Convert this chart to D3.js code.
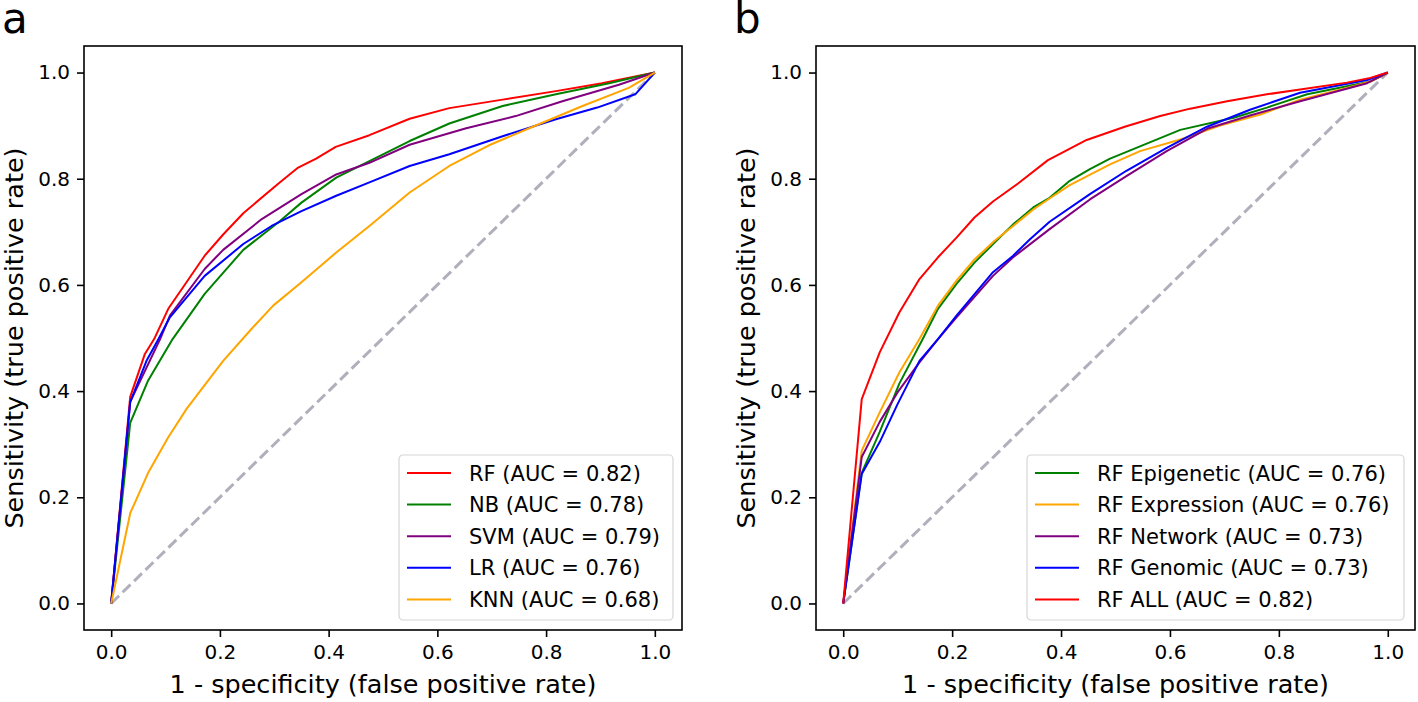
<!DOCTYPE html>
<html>
<head>
<meta charset="utf-8">
<script src="https://cdn.jsdelivr.net/npm/d3@7"></script>
<style>
  body { margin: 0; background: #fff; }
  svg text { font-family: "DejaVu Sans", sans-serif; fill: #000; }
</style>
</head>
<body>
<div id="chart"></div>
<script>
// tick values shared by both panels
var tickValues = [0, 0.2, 0.4, 0.6, 0.8, 1.0];

// panel a: classifiers, [fpr, tpr]
var rocRF = [[0,0],[0.035,0.389],[0.062,0.47],[0.079,0.498],[0.105,0.555],[0.172,0.655],[0.206,0.695],[0.243,0.735],[0.31,0.793],[0.344,0.821],[0.377,0.838],[0.413,0.86],[0.475,0.882],[0.549,0.913],[0.622,0.933],[0.72,0.949],[0.818,0.965],[0.903,0.98],[1,1]];
var rocNB = [[0,0],[0.035,0.34],[0.068,0.42],[0.113,0.498],[0.172,0.583],[0.243,0.666],[0.31,0.72],[0.35,0.755],[0.414,0.802],[0.475,0.833],[0.549,0.871],[0.622,0.904],[0.72,0.937],[0.818,0.959],[0.916,0.98],[1,1]];
var rocSVM = [[0,0],[0.035,0.38],[0.09,0.498],[0.108,0.542],[0.172,0.63],[0.206,0.666],[0.277,0.724],[0.35,0.771],[0.414,0.808],[0.475,0.83],[0.549,0.864],[0.653,0.895],[0.744,0.918],[0.83,0.946],[0.934,0.977],[1,1]];
var rocLR = [[0,0],[0.035,0.379],[0.065,0.457],[0.087,0.498],[0.108,0.539],[0.172,0.617],[0.243,0.677],[0.295,0.711],[0.35,0.739],[0.414,0.768],[0.475,0.793],[0.549,0.824],[0.622,0.846],[0.72,0.88],[0.818,0.912],[0.894,0.934],[0.964,0.959],[1,1]];
var rocKNN = [[0,0],[0.035,0.17],[0.068,0.246],[0.105,0.313],[0.139,0.367],[0.206,0.457],[0.258,0.517],[0.298,0.561],[0.35,0.605],[0.414,0.661],[0.475,0.711],[0.549,0.774],[0.622,0.824],[0.695,0.863],[0.769,0.895],[0.867,0.937],[0.952,0.971],[1,1]];

// panel b: feature sets
var rocEpi = [[0,0],[0.034,0.246],[0.067,0.323],[0.103,0.414],[0.146,0.498],[0.174,0.555],[0.208,0.602],[0.241,0.642],[0.278,0.68],[0.312,0.714],[0.349,0.746],[0.379,0.764],[0.416,0.796],[0.453,0.818],[0.49,0.838],[0.545,0.861],[0.619,0.892],[0.717,0.915],[0.778,0.934],[0.852,0.959],[0.925,0.974],[0.968,0.983],[1,1]];
var rocExpr = [[0,0],[0.034,0.288],[0.067,0.36],[0.103,0.435],[0.14,0.498],[0.174,0.561],[0.208,0.608],[0.241,0.648],[0.278,0.683],[0.312,0.711],[0.349,0.742],[0.385,0.767],[0.416,0.788],[0.49,0.827],[0.545,0.852],[0.619,0.874],[0.692,0.9],[0.766,0.921],[0.839,0.949],[0.925,0.971],[0.968,0.983],[1,1]];
var rocNet = [[0,0],[0.034,0.276],[0.067,0.342],[0.1,0.398],[0.14,0.454],[0.174,0.498],[0.208,0.539],[0.275,0.617],[0.312,0.652],[0.379,0.705],[0.453,0.761],[0.52,0.805],[0.594,0.852],[0.668,0.894],[0.747,0.919],[0.839,0.946],[0.962,0.98],[1,1]];
var rocGen = [[0,0],[0.034,0.244],[0.067,0.304],[0.1,0.376],[0.14,0.457],[0.174,0.498],[0.208,0.542],[0.275,0.624],[0.312,0.655],[0.343,0.686],[0.379,0.719],[0.453,0.771],[0.52,0.815],[0.594,0.858],[0.668,0.898],[0.747,0.93],[0.839,0.962],[0.962,0.986],[1,1]];
var rocAll = [[0,0],[0.034,0.385],[0.067,0.473],[0.103,0.548],[0.14,0.611],[0.174,0.652],[0.208,0.689],[0.241,0.727],[0.275,0.757],[0.321,0.791],[0.376,0.835],[0.447,0.873],[0.517,0.898],[0.582,0.918],[0.637,0.932],[0.705,0.946],[0.778,0.959],[0.839,0.968],[0.925,0.981],[0.968,0.99],[1,1]];

var labelsA = ["RF (AUC = 0.82)", "NB (AUC = 0.78)", "SVM (AUC = 0.79)", "LR (AUC = 0.76)", "KNN (AUC = 0.68)"];
var colorsA = ["red", "green", "purple", "blue", "orange"];
var seriesA = [rocRF, rocNB, rocSVM, rocLR, rocKNN];

var labelsB = ["RF Epigenetic (AUC = 0.76)", "RF Expression (AUC = 0.76)", "RF Network (AUC = 0.73)", "RF Genomic (AUC = 0.73)", "RF ALL (AUC = 0.82)"];
var colorsB = ["green", "orange", "purple", "blue", "red"];
var seriesB = [rocEpi, rocExpr, rocNet, rocGen, rocAll];

var svgWidth = 1418;
var svgHeight = 702;

var svg = d3.select("#chart")
  .append("svg")
  .attr("width", svgWidth)
  .attr("height", svgHeight);

function drawPanel(opts) {
  var x = d3.scaleLinear().domain([-0.05, 1.05]).range([opts.left, opts.right]);
  var y = d3.scaleLinear().domain([-0.05, 1.05]).range([opts.bottom, opts.top]);
  var g = svg.append("g");

  // chance diagonal
  g.append("path")
    .datum([[0, 0], [1, 1]])
    .attr("d", d3.line().x(d => x(d[0])).y(d => y(d[1])))
    .attr("fill", "none")
    .attr("stroke", "#b0b0bc")
    .attr("stroke-width", 3)
    .attr("stroke-dasharray", "11,5");

  var line = d3.line().x(d => x(d[0])).y(d => y(d[1]));
  opts.series.forEach(function(s, i) {
    g.append("path")
      .datum(s)
      .attr("d", line)
      .attr("fill", "none")
      .attr("stroke", opts.colors[i])
      .attr("stroke-width", 2)
      .attr("stroke-linejoin", "round");
  });

  // axes
  var xAxis = d3.axisBottom(x).tickValues(tickValues).tickFormat(d3.format(".1f")).tickSize(7).tickPadding(8);
  var yAxis = d3.axisLeft(y).tickValues(tickValues).tickFormat(d3.format(".1f")).tickSize(7).tickPadding(7);

  var gx = g.append("g").attr("transform", `translate(0, ${opts.bottom})`).call(xAxis);
  var gy = g.append("g").attr("transform", `translate(${opts.left}, 0)`).call(yAxis);
  [gx, gy].forEach(function(a) {
    a.select(".domain").remove();
    a.selectAll(".tick line").attr("stroke", "#000").attr("stroke-width", 1.6);
    a.selectAll(".tick text").attr("font-size", 20).attr("font-family", "DejaVu Sans");
  });

  // frame
  g.append("rect")
    .attr("x", opts.left).attr("y", opts.top)
    .attr("width", opts.right - opts.left).attr("height", opts.bottom - opts.top)
    .attr("fill", "none").attr("stroke", "#000").attr("stroke-width", 1.6);

  // axis labels
  g.append("text")
    .attr("x", (opts.left + opts.right) / 2).attr("y", 693)
    .attr("text-anchor", "middle").attr("font-size", 25.5)
    .text("1 - specificity (false positive rate)");
  g.append("text")
    .attr("transform", `translate(${opts.left - 61}, ${(opts.top + opts.bottom) / 2}) rotate(-90)`)
    .attr("text-anchor", "middle").attr("font-size", 25.5)
    .text("Sensitivity (true positive rate)");

  // panel letter
  g.append("text")
    .attr("x", opts.left - 82).attr("y", 33)
    .attr("font-size", 42)
    .text(opts.letter);

  // legend
  var lg = g.append("g").attr("transform", `translate(${opts.legendX}, 455)`);
  lg.append("rect")
    .attr("width", opts.legendW).attr("height", 165)
    .attr("rx", 4)
    .attr("fill", "#fff").attr("fill-opacity", 0.8)
    .attr("stroke", "#d6d6d6").attr("stroke-width", 1.2);
  opts.labels.forEach(function(lab, i) {
    var cy = 18 + i * 31.6;
    lg.append("line")
      .attr("x1", 8).attr("x2", 52).attr("y1", cy).attr("y2", cy)
      .attr("stroke", opts.colors[i]).attr("stroke-width", 2);
    lg.append("text")
      .attr("x", 70).attr("y", cy + 7.5)
      .attr("font-size", 21)
      .text(lab);
  });
}

drawPanel({ left: 84, right: 682, top: 46, bottom: 630, letter: "a",
  series: seriesA, colors: colorsA, labels: labelsA, legendX: 399, legendW: 274 });
drawPanel({ left: 816, right: 1415, top: 46, bottom: 630, letter: "b",
  series: seriesB, colors: colorsB, labels: labelsB, legendX: 1027, legendW: 377 });
</script>
</body>
</html>
